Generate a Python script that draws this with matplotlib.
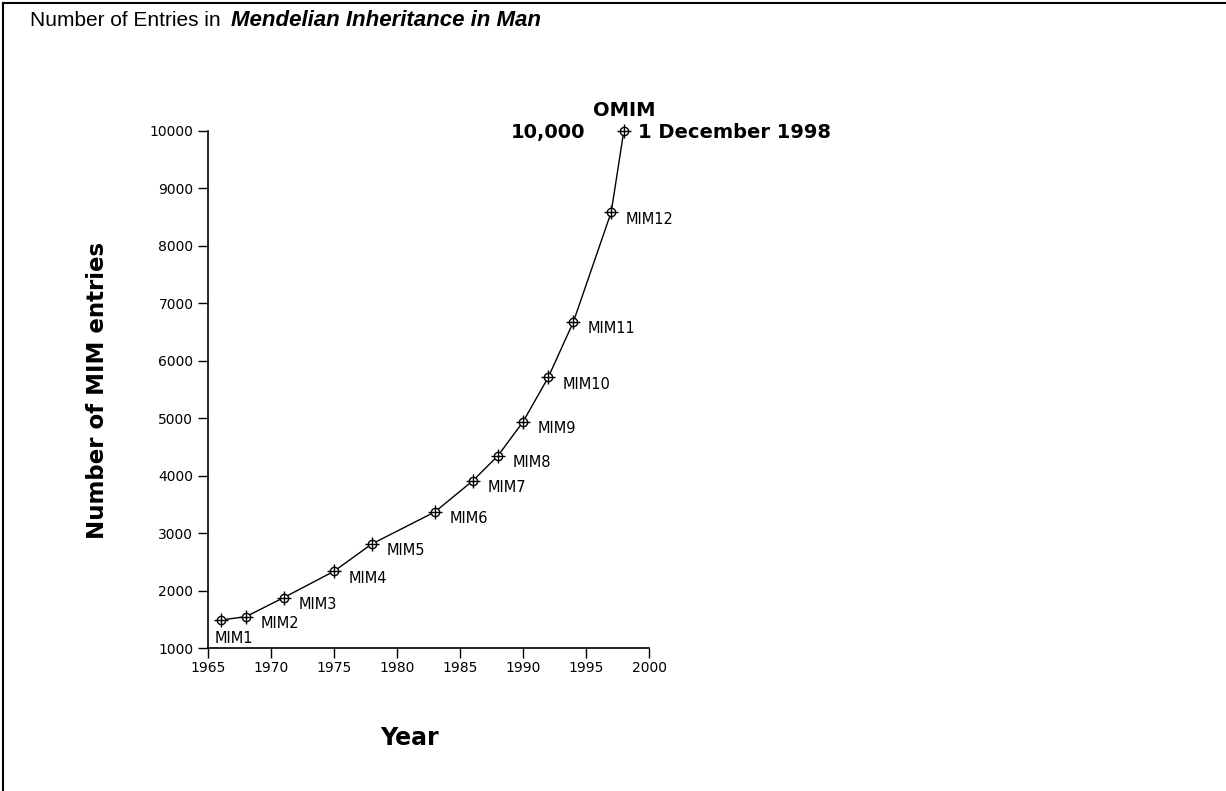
import matplotlib.pyplot as plt
from matplotlib.lines import Line2D

years = [1966, 1968, 1971, 1975, 1978, 1983, 1986, 1988, 1990, 1992, 1994, 1997, 1998]
entries = [1487, 1545, 1876, 2336, 2811, 3368, 3907, 4344, 4937, 5710, 6678, 8587, 10000]
labels = ['MIM1', 'MIM2', 'MIM3', 'MIM4', 'MIM5', 'MIM6', 'MIM7', 'MIM8',
          'MIM9', 'MIM10', 'MIM11', 'MIM12']

x_ticks = [1965, 1970, 1975, 1980, 1985, 1990, 1995, 2000]
y_ticks = [1000, 2000, 3000, 4000, 5000, 6000, 7000, 8000, 9000, 10000]

plt.rcParams['font.family'] = ['DejaVu Sans']

W, H = 1226, 791
fig = plt.figure(figsize=(W / 100, H / 100), dpi=100)
ax = fig.add_axes([208 / W, 1 - 648 / H, (649 - 208) / W, (648 - 131) / H])

# curve + markers (circle with crosshair)
ax.plot(years, entries, '-', color='black', linewidth=1, zorder=2, clip_on=False)
ax.plot(years, entries, 'o', mfc='white', mec='black', mew=1, markersize=6, zorder=3, clip_on=False)
ax.plot(years, entries, '+', color='black', mew=1, markersize=10, zorder=4, clip_on=False)

# MIM labels
for i, lab in enumerate(labels):
    if i == 0:
        ax.annotate(lab, (years[i], entries[i]), xytext=(-4, -13), textcoords='offset points',
                    ha='left', va='center', fontsize=10.5)
    else:
        ax.annotate(lab, (years[i], entries[i]), xytext=(10.5, -5), textcoords='offset points',
                    ha='left', va='center', fontsize=10.5)

# OMIM annotations
bold = dict(fontweight='bold', fontsize=14)
ax.annotate('OMIM', (years[-1], entries[-1]), xytext=(0, 15), textcoords='offset points',
            ha='center', va='center', **bold)
ax.annotate('10,000', (years[-1], entries[-1]), xytext=(-28, -1), textcoords='offset points',
            ha='right', va='center', **bold)
ax.annotate('1 December 1998', (years[-1], entries[-1]), xytext=(10, -1), textcoords='offset points',
            ha='left', va='center', **bold)

ax.set_xlim(1965, 2000)
ax.set_ylim(1000, 10000)
ax.set_xticks(x_ticks)
ax.set_yticks(y_ticks)
ax.tick_params(direction='out', length=7, width=1, labelsize=10, colors='black')
ax.tick_params(axis='x', pad=2)
for s in ['top', 'right']:
    ax.spines[s].set_visible(False)
for s in ['left', 'bottom']:
    ax.spines[s].set_linewidth(1.2)

fig.text(98 / W, 1 - 390 / H, 'Number of MIM entries', rotation=90, ha='center', va='center',
         fontsize=16.5, fontweight='bold')
fig.text(410 / W, 1 - 738 / H, 'Year', ha='center', va='center',
         fontsize=17, fontweight='bold')

fig.text(30 / W, 1 - 20 / H, 'Number of Entries in', ha='left', va='center', fontsize=15,
         family='Liberation Sans')
fig.text(231 / W, 1 - 20 / H, 'Mendelian Inheritance in Man', ha='left', va='center',
         fontsize=16, style='italic', fontweight='bold', family='Liberation Sans')

# frame lines along left and top edges
fig.add_artist(Line2D([2.5 / W, 2.5 / W], [0, 1 - 2.5 / H], color='black', linewidth=1.5))
fig.add_artist(Line2D([2.5 / W, 1], [1 - 2.5 / H, 1 - 2.5 / H], color='black', linewidth=1.5))

fig.savefig('out.png', dpi=100)
